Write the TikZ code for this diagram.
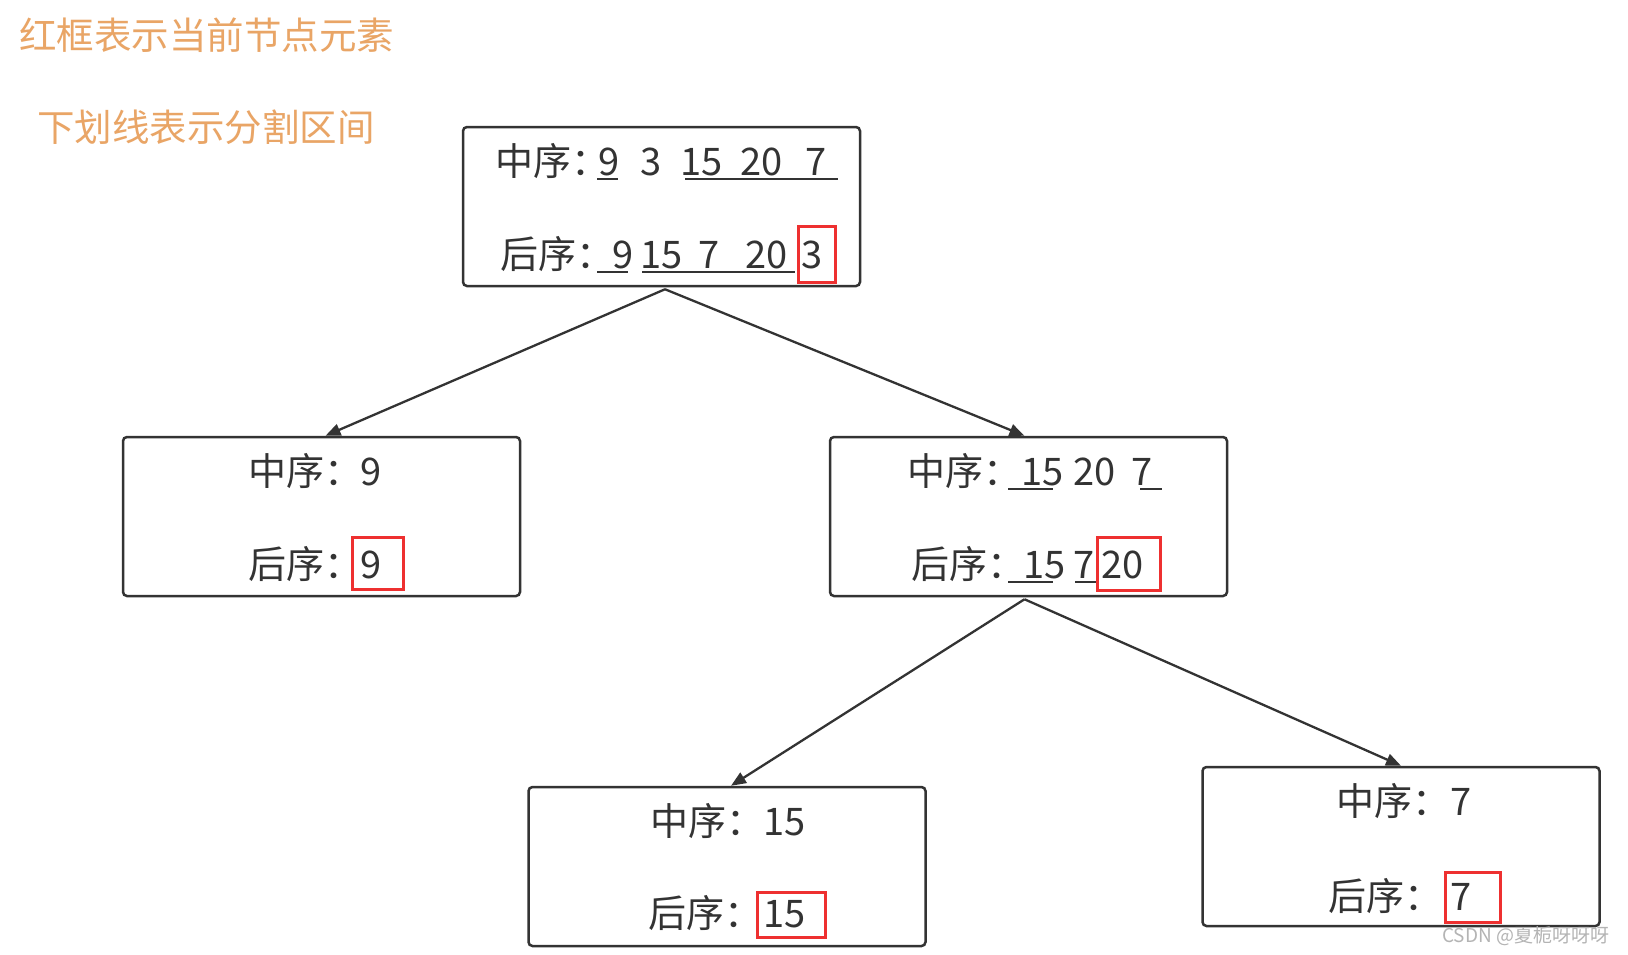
\documentclass[tikz,border=0pt]{standalone}
\usepackage{fontspec}
\setmainfont{Noto Sans CJK SC}
\usetikzlibrary{arrows.meta}
\definecolor{ink}{HTML}{333333}
\definecolor{note}{HTML}{E9A566}
\definecolor{mark}{HTML}{EE3030}
\definecolor{wm}{HTML}{B4B4B4}
\tikzset{
  box/.style={draw=ink, line width=2.5pt, rounded corners=4pt, minimum width=397pt, minimum height=159pt, inner sep=0pt},
  lbl/.style={anchor=base west, inner sep=0pt, font=\fontsize{38}{38}\selectfont, text=ink},
  ttl/.style={anchor=base west, inner sep=0pt, font=\fontsize{37.5}{37.5}\selectfont, text=note},
  uline/.style={draw=ink, line width=1.5pt},
  redbox/.style={draw=mark, line width=3pt},
  conn/.style={draw=ink, line width=2.3pt, -{Triangle[length=15pt,width=12pt]}}
}
\begin{document}
\begin{tikzpicture}[x=1pt,y=-1pt]
\useasboundingbox[fill=white] (0,0) rectangle (1628,954);

% titles
\node[ttl] (t1) at (19,49) {红框表示当前节点元素};
\node[ttl] (t2) at (37,141) {下划线表示分割区间};

% boxes
\node[box] (root) at (661.5,206.5) {};
\node[box] (L) at (321.5,516.5) {};
\node[box] (R) at (1028.5,516.5) {};
\node[box] (RL) at (727,866.5) {};
\node[box] (RR) at (1401,846.5) {};

% root text
\node[lbl] (r1) at (495,175) {中序：};
\node[lbl] (r1a) at (598,175) {9};
\node[lbl] (r1b) at (640,175) {3};
\node[lbl] (r1c) at (680,175) {15};
\node[lbl] (r1d) at (740,175) {20};
\node[lbl] (r1e) at (805,175) {7};
\draw[uline] (597,179) -- (618,179);
\draw[uline] (685,179) -- (838,179);
\node[lbl] (r2) at (500,268) {后序：};
\node[lbl] (r2a) at (612,268) {9};
\node[lbl] (r2b) at (640,268) {15};
\node[lbl] (r2c) at (698,268) {7};
\node[lbl] (r2d) at (745,268) {20};
\node[lbl] (r2e) at (801,268) {3};
\draw[uline] (597,272) -- (628,272);
\draw[uline] (642,272) -- (795,272);
\draw[redbox] (798,226) rectangle (835,282);

% left box text
\node[lbl] (l1) at (248,485) {中序：};
\node[lbl] (l1a) at (360,485) {9};
\node[lbl] (l2) at (248,578) {后序：};
\node[lbl] (l2a) at (360,578) {9};
\draw[redbox] (352,537) rectangle (403,589);

% right box text
\node[lbl] (m1) at (907,485) {中序：};
\node[lbl] (m1a) at (1021,485) {15};
\node[lbl] (m1b) at (1073,485) {20};
\node[lbl] (m1c) at (1131,485) {7};
\draw[uline] (1008,489) -- (1053,489);
\draw[uline] (1140,489) -- (1162,489);
\node[lbl] (m2) at (911,578) {后序：};
\node[lbl] (m2a) at (1023,578) {15};
\node[lbl] (m2b) at (1073,578) {7};
\node[lbl] (m2c) at (1101,578) {20};
\draw[uline] (1008,582) -- (1053,582);
\draw[uline] (1075,582) -- (1097,582);
\draw[redbox] (1097,537) rectangle (1160,590);

% bottom-left text
\node[lbl] (b1) at (650,835) {中序：};
\node[lbl] (b1a) at (763,835) {15};
\node[lbl] (b2) at (648,927) {后序：};
\node[lbl] (b2a) at (763,927) {15};
\draw[redbox] (757,892) rectangle (825,937);

% bottom-right text
\node[lbl] (c1) at (1336,815) {中序：};
\node[lbl] (c1a) at (1450,815) {7};
\node[lbl] (c2) at (1328,910) {后序：};
\node[lbl] (c2a) at (1450,910) {7};
\draw[redbox] (1445,872) rectangle (1500,922);

% connectors
\draw[conn] ([xshift=3.5pt,yshift=-2pt]root.south) -- ([xshift=4pt]L.north);
\draw[conn] ([xshift=3.5pt,yshift=-2pt]root.south) -- ([xshift=-4pt]R.north);
\draw[conn] ([xshift=-4pt,yshift=-2pt]R.south) -- ([xshift=4pt]RL.north);
\draw[conn] ([xshift=-4pt,yshift=-2pt]R.south) -- (RR.north);

% watermark
\node[anchor=base west, inner sep=0pt, font=\fontsize{19}{19}\selectfont, text=wm] (wmk) at (1442,942) {CSDN @夏栀呀呀呀};
\end{tikzpicture}
\end{document}
